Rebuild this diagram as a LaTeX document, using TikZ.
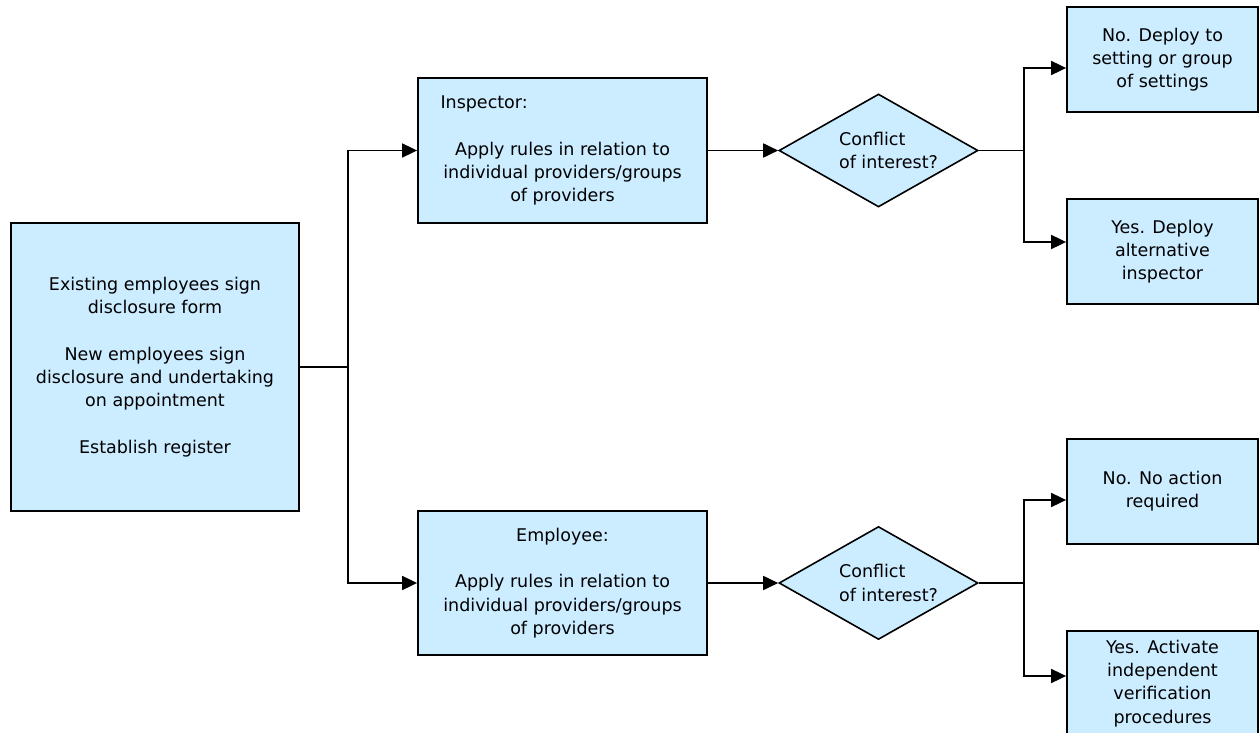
\documentclass[tikz,border=0pt]{standalone}
\usepackage{fontspec}
\setmainfont{DejaVu Sans}
\usetikzlibrary{shapes.geometric,arrows.meta,positioning,calc}
\definecolor{box_blue}{HTML}{CCECFF}
\tikzset{flowbox/.style={rectangle, align=center, draw=black, fill=box_blue, line width=1.8pt, inner sep=0pt, font=\fontsize{17.5}{23.3}\selectfont}}
\tikzset{resultbox/.style={flowbox, minimum width=191pt, minimum height=105pt}}
\tikzset{decision/.style={diamond, align=left, draw=black, fill=box_blue, line width=1.6pt, inner sep=0pt, aspect=1.76, minimum width=199pt, minimum height=113pt, font=\fontsize{17.5}{23.3}\selectfont}}
\tikzset{arrow/.style={line width=1.8pt, -{Triangle[length=15pt,width=14pt]}}}
\tikzset{link/.style={line width=1.8pt}}

\begin{document}
\begin{tikzpicture}[x=1pt, y=-1pt]
  \useasboundingbox (0,0) rectangle (1259,733);

  \node[flowbox, minimum width=288pt, minimum height=288pt] (start) at (155,367) {Existing employees sign\\disclosure form\\[23.3pt]New employees sign\\disclosure and undertaking\\on appointment\\[23.3pt]Establish register};

  \node[flowbox, minimum width=289pt, minimum height=145pt] (inspector) at (562.5,150.5) {\makebox[244pt][l]{Inspector:}\\[23.3pt]Apply rules in relation to\\individual providers/groups\\of providers};
  \node[flowbox, minimum width=289pt, minimum height=144pt] (employee) at (562.5,583) {Employee:\\[23.3pt]Apply rules in relation to\\individual providers/groups\\of providers};

  \node[decision] (check-1) at (878.5,150.5) {\hspace*{20pt}Conflict\\\hspace*{20pt}of interest?};
  \node[decision] (check-2) at (878.5,583) {\hspace*{20pt}Conflict\\\hspace*{20pt}of interest?};

  \node[resultbox] (result-1-1) at (1162.5,59.5) {No. Deploy to\\setting or group\\of settings};
  \node[resultbox] (result-1-2) at (1162.5,251.5) {Yes. Deploy\\alternative\\inspector};
  \node[resultbox] (result-2-1) at (1162.5,491.5) {No. No action\\required};
  \node[resultbox] (result-2-2) at (1162.5,683.5) {Yes. Activate\\independent\\verification\\procedures};

  \draw[link] (start.east) -- ++(48,0) coordinate (split);
  \draw[arrow] (split) |- (inspector.west);
  \draw[arrow] (split) |- (employee.west);

  \draw[arrow] (inspector) -- (check-1);
  \draw[arrow] (employee) -- (check-2);

  \draw[arrow] (check-1.east) -- ++(45,0) |- ([yshift=-8.5pt]result-1-1.west);
  \draw[arrow] (check-1.east) -- ++(45,0) |- ([yshift=9.5pt]result-1-2.west);
  \draw[arrow] (check-2.east) -- ++(45,0) |- ([yshift=-8.5pt]result-2-1.west);
  \draw[arrow] (check-2.east) -- ++(45,0) |- ([yshift=7.5pt]result-2-2.west);
\end{tikzpicture}
\end{document}
